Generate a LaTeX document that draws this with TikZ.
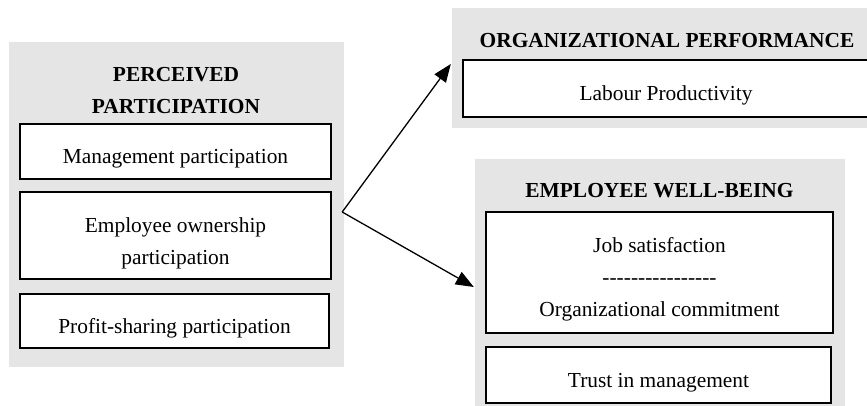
\documentclass[tikz,border=0pt]{standalone}
\usepackage{fontspec}
\setmainfont{Liberation Serif}
\usetikzlibrary{arrows.meta}
\definecolor{panelgray}{gray}{0.898}
\begin{document}
\begin{tikzpicture}[x=1pt,y=-1pt,
  panel/.style={fill=panelgray, draw=none},
  itembox/.style={draw=black, fill=white, line width=1.3pt},
  txt/.style={anchor=base, inner sep=0pt, font=\fontsize{21.4}{25}\selectfont},
  head/.style={txt, font=\fontsize{21.4}{25}\selectfont\bfseries},
  link/.style={line width=1.3pt, -{Triangle[length=18pt,width=14pt]}}]
\clip (0,0) rectangle (867,405);

% panels
\node[panel, inner sep=0pt, minimum width=430pt, minimum height=120pt] (orgpanel) at (667,68) {};
\node[panel, inner sep=0pt, minimum width=370pt, minimum height=261pt] (wbpanel) at (660,289.5) {};
\node[panel, inner sep=0pt, minimum width=335pt, minimum height=325pt] (partpanel) at (176.5,204.5) {};

% perceived participation
\node[head] (h1a) at (176,81) {PERCEIVED};
\node[head] (h1b) at (176,113) {PARTICIPATION};
\node[itembox, inner sep=0pt, minimum width=311pt, minimum height=55pt] (mgmt) at (175.5,151.5) {};
\node[txt] (mgmt-t) at (175.5,163) {Management participation};
\node[itembox, inner sep=0pt, minimum width=311pt, minimum height=87pt] (own) at (175.5,235.5) {};
\node[txt] (own-t1) at (175.5,232) {Employee ownership};
\node[txt] (own-t2) at (175.5,264) {participation};
\node[itembox, inner sep=0pt, minimum width=309pt, minimum height=54pt] (profit) at (174.5,321) {};
\node[txt] (profit-t) at (174.5,333) {Profit-sharing participation};

% organizational performance
\node[head] (h2) at (667,47) {ORGANIZATIONAL PERFORMANCE};
\node[itembox, inner sep=0pt, minimum width=407pt, minimum height=57pt] (labour) at (666.5,88.5) {};
\node[txt] (labour-t) at (666,100) {Labour Productivity};

% employee well-being
\node[head] (h3) at (659.5,197) {EMPLOYEE WELL-BEING};
\node[itembox, inner sep=0pt, minimum width=347pt, minimum height=121pt] (job) at (659.5,272.5) {};
\node[txt] (job-t1) at (659.5,252) {Job satisfaction};
\node[txt] (job-t2) at (659.5,284) {-{}-{}-{}-{}-{}-{}-{}-{}-{}-{}-{}-{}-{}-{}-{}-};
\node[txt] (job-t3) at (659.5,316) {Organizational commitment};
\node[itembox, inner sep=0pt, minimum width=345pt, minimum height=56pt] (trust) at (658.5,375) {};
\node[txt] (trust-t) at (658.5,387) {Trust in management};

% arrows from the participation panel to the two outcome panels
\coordinate (hub) at ([xshift=-2pt,yshift=-7.5pt]partpanel.east);
\draw[link] (hub) -- ([xshift=-1pt,yshift=4pt]orgpanel.west);
\draw[link] (hub) -- ([xshift=-1pt,yshift=2.5pt]wbpanel.west);
\end{tikzpicture}
\end{document}
